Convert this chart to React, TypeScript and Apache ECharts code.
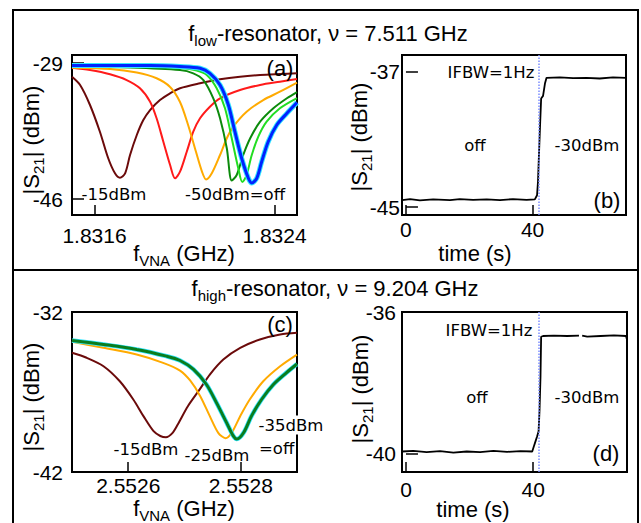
import React, { useEffect, useRef } from "react";
import * as echarts from "echarts";

// ---------- data: panel (a) f_low resonator, |S21| (dBm) vs f_VNA (GHz) ----------
const aMaroon: [number, number][] = [[1.8315,-30.71],[1.831536,-31.75],[1.83158,-34.25],[1.831624,-37.59],[1.831661,-40.91],[1.831691,-42.79],[1.831713,-43.34],[1.831736,-42.79],[1.831758,-40.5],[1.831788,-38.0],[1.831817,-36.13],[1.831847,-34.88],[1.831891,-33.63],[1.831936,-32.79],[1.83198,-32.16],[1.832069,-31.54],[1.832158,-31.04],[1.832247,-30.71],[1.832336,-30.5],[1.832424,-30.38],[1.8325,-30.29]];
const aRed: [number, number][] = [[1.8315,-29.59],[1.83158,-29.88],[1.831669,-30.41],[1.831743,-31.13],[1.831802,-32.16],[1.831847,-33.84],[1.831876,-35.91],[1.831906,-38.84],[1.831936,-41.75],[1.831958,-43.41],[1.83198,-42.59],[1.83201,-40.09],[1.832039,-37.59],[1.832069,-35.91],[1.832113,-34.46],[1.832158,-33.41],[1.832247,-32.38],[1.832336,-31.75],[1.832424,-31.34],[1.8325,-31.0]];
const aOrange: [number, number][] = [[1.8315,-29.59],[1.831669,-29.75],[1.831788,-30.19],[1.831876,-30.91],[1.831936,-32.0],[1.83198,-33.88],[1.832016,-36.75],[1.832051,-40.1],[1.832078,-42.6],[1.832096,-43.56],[1.832122,-42.75],[1.832158,-40.5],[1.832188,-38.41],[1.832217,-36.96],[1.832276,-35.09],[1.83235,-33.63],[1.832424,-32.59],[1.8325,-31.45]];
const aDarkGreen: [number, number][] = [[1.8315,-29.44],[1.831758,-29.56],[1.83198,-29.88],[1.832039,-30.29],[1.832084,-31.13],[1.832128,-33.41],[1.832158,-35.91],[1.832188,-39.66],[1.83221,-43.69],[1.832232,-43.0],[1.832261,-40.5],[1.832292,-38.41],[1.832336,-36.34],[1.832395,-34.66],[1.832455,-33.41],[1.8325,-32.63]];
const aLightGreen: [number, number][] = [[1.8315,-29.38],[1.831847,-29.44],[1.83198,-29.63],[1.832054,-29.94],[1.832099,-30.5],[1.832143,-32.16],[1.83218,-34.66],[1.83221,-38.41],[1.832239,-42.16],[1.832257,-43.88],[1.832276,-43.0],[1.832299,-40.5],[1.832328,-38.21],[1.832365,-36.34],[1.832424,-34.66],[1.8325,-33.38]];
const aBlue: [number, number][] = [[1.8315,-29.31],[1.831847,-29.31],[1.83198,-29.44],[1.832069,-29.66],[1.832113,-30.29],[1.832158,-31.75],[1.832195,-34.25],[1.832224,-37.59],[1.832254,-40.91],[1.832284,-43.41],[1.832299,-44.0],[1.832321,-43.41],[1.832343,-41.34],[1.832372,-38.84],[1.83241,-36.75],[1.832455,-35.29],[1.8325,-33.94]];
const aTicksX = [1.8316, 1.8324];
const aTicksY = [-29, -46];

// ---------- panel (b): f_low, time trace ----------
const bTime = [-1.2,1.3,4.4,8.6,13.9,17.0,21.2,25.5,29.7,33.8,38.1,40.7,41.4,41.7,42.0,42.4,42.7,43.3,43.9,44.4,48.6,52.8,57.0,61.2,65.4,69.5];
const bS21 = [-44.59,-44.53,-44.61,-44.55,-44.59,-44.53,-44.57,-44.55,-44.59,-44.53,-44.57,-44.55,-44.30,-43.51,-41.93,-39.96,-38.57,-38.42,-37.69,-37.35,-37.33,-37.37,-37.35,-37.39,-37.33,-37.35];
const bSwitchTime = 42.0;
const bTicksX = [0, 40];
const bTicksY = [-37, -45];

// ---------- panel (c): f_high resonator ----------
const cMaroon: [number, number][] = [[2.5525,-34.55],[2.552526,-34.86],[2.552556,-35.39],[2.552585,-36.33],[2.552609,-37.47],[2.552627,-38.51],[2.552645,-39.45],[2.552657,-39.75],[2.552667,-39.83],[2.552678,-39.59],[2.552688,-39.03],[2.552706,-37.89],[2.552727,-36.84],[2.552745,-35.91],[2.552769,-34.97],[2.552799,-34.24],[2.552834,-33.72],[2.55287,-33.41],[2.5529,-33.3]];
const cOrange: [number, number][] = [[2.5525,-33.86],[2.552556,-34.24],[2.552615,-34.66],[2.552662,-35.18],[2.552692,-35.66],[2.55271,-36.28],[2.552728,-37.26],[2.552745,-38.51],[2.55276,-39.55],[2.552773,-39.89],[2.552784,-39.55],[2.552799,-38.51],[2.552816,-37.47],[2.55284,-36.33],[2.55287,-35.39],[2.5529,-34.66]];
const cGreen: [number, number][] = [[2.5525,-33.78],[2.552556,-34.03],[2.552615,-34.34],[2.552668,-34.76],[2.552692,-35.03],[2.552716,-35.59],[2.552739,-36.53],[2.552757,-37.68],[2.552775,-38.93],[2.552787,-39.76],[2.552793,-39.94],[2.552805,-39.55],[2.552819,-38.51],[2.552837,-37.47],[2.552858,-36.53],[2.552881,-35.8],[2.5529,-35.25]];
const cTicksX = [2.5526, 2.5528];
const cTicksY = [-32, -42];

// ---------- panel (d): f_high, time trace ----------
const dTime = [-1.2,2.3,6.5,10.7,14.9,19.1,23.3,27.5,31.8,36.0,39.7,40.2,40.7,41.2,41.7,42.0,42.3,42.5,43.1,46.5,50.7,54.4,54.9,55.4,57.0,61.2,65.4,69.2,69.5];
const dS21: (number | string)[] = [-39.95,-39.93,-39.97,-39.94,-39.98,-39.95,-39.97,-39.93,-39.96,-39.94,-39.95,-39.81,-39.67,-39.53,-39.38,-38.77,-37.83,-36.70,-36.68,-36.67,-36.68,-36.67,"-",-36.67,-36.70,-36.68,-36.66,-36.68,-36.79];
const dSwitchTime = 41.9;
const dTicksX = [0, 40];
const dTicksY = [-36, -40];

const SANS = "'Liberation Sans', Arial, Helvetica, sans-serif";
const ANN = "'DejaVu Sans', Verdana, sans-serif";

const C = {
  maroon: "#6b0a0a",
  red: "#ff1a1a",
  orange: "#ffaa00",
  darkGreen: "#0b8a0b",
  lightGreen: "#22dd22",
  blue: "#0022ff",
  cyan: "#33e6ff",
  cGreen: "#0a7d1e",
  marker: "#7b8cff",
};

const richStyles = {
  n: { fontSize: 22, fontFamily: SANS, fill: "#000", lineHeight: 30 },
  s: { fontSize: 15, fontFamily: SANS, fill: "#000", lineHeight: 15, verticalAlign: "bottom" },
};

function richText(x: number, y: number, text: string, rotation = 0) {
  return {
    type: "text",
    x,
    y,
    rotation,
    z: 100,
    style: { text, rich: richStyles, align: "center", verticalAlign: "middle" },
  };
}

function ann(x: number, y: number, text: string, extra: any = {}) {
  return {
    type: "text",
    x,
    y,
    z: 100,
    style: {
      text,
      fontSize: 16.5,
      fontFamily: ANN,
      fill: "#000",
      align: "center",
      verticalAlign: "middle",
      ...extra,
    },
  };
}

function panelLabel(x: number, y: number, text: string) {
  return {
    type: "text",
    x,
    y,
    z: 100,
    style: { text, fontSize: 22, fontFamily: SANS, fill: "#000", align: "center", verticalAlign: "middle" },
  };
}

function xAx(gridIndex: number, min: number, max: number, ticks: number[], digits: number, margin: number) {
  return {
    type: "value",
    gridIndex,
    min,
    max,
    axisLine: { show: false },
    splitLine: { show: false },
    axisTick: { show: true, inside: true, length: 10, customValues: ticks, lineStyle: { color: "#000", width: 1.5 } },
    axisLabel: {
      show: true,
      customValues: ticks,
      formatter: (v: number) => v.toFixed(digits),
      margin,
      color: "#000",
      fontSize: 21,
      fontFamily: SANS,
    },
  };
}

function yAx(gridIndex: number, min: number, max: number, ticks: number[], margin: number) {
  return {
    type: "value",
    gridIndex,
    min,
    max,
    axisLine: { show: false },
    splitLine: { show: false },
    axisTick: { show: true, inside: true, length: 12, customValues: ticks, lineStyle: { color: "#000", width: 1.5 } },
    axisLabel: {
      show: true,
      customValues: ticks,
      formatter: (v: number) => String(Math.round(v)),
      margin,
      color: "#000",
      fontSize: 21,
      fontFamily: SANS,
    },
  };
}

function curve(idx: number, data: any[], color: string, width: number, z = 2) {
  return {
    type: "line",
    xAxisIndex: idx,
    yAxisIndex: idx,
    data,
    symbol: "none",
    showSymbol: false,
    smooth: 0.3,
    z,
    lineStyle: { color, width },
  };
}

function trace(idx: number, t: number[], v: any[], marker: number) {
  return {
    type: "line",
    xAxisIndex: idx,
    yAxisIndex: idx,
    data: t.map((x, i) => [x, v[i]]),
    symbol: "none",
    showSymbol: false,
    lineStyle: { color: "#000", width: 1.8 },
    markLine: {
      silent: true,
      symbol: ["none", "none"],
      label: { show: false },
      lineStyle: { color: C.marker, type: "dotted", width: 1.5 },
      data: [{ xAxis: marker }],
    },
  };
}

const gridBase = { show: true, borderColor: "#000", borderWidth: 2, backgroundColor: "transparent" };

export default function App() {
  const ref = useRef<HTMLDivElement>(null);

  useEffect(() => {
    if (!ref.current) return;
    const chart = echarts.init(ref.current, undefined, { renderer: "svg" });
    chart.setOption({
      animation: false,
      backgroundColor: "#fff",
      grid: [
        { ...gridBase, left: 72, top: 55, width: 225, height: 160 },
        { ...gridBase, left: 402, top: 55, width: 224, height: 160 },
        { ...gridBase, left: 72, top: 312, width: 225, height: 160 },
        { ...gridBase, left: 402, top: 312, width: 225, height: 160 },
      ],
      xAxis: [
        xAx(0, 1.8315, 1.8325, aTicksX, 4, 10),
        xAx(1, -1.25, 69.5, bTicksX, 0, 4),
        xAx(2, 2.5525, 2.5529, cTicksX, 4, 3),
        xAx(3, -1.25, 69.5, dTicksX, 0, 7),
      ],
      yAxis: [
        yAx(0, -48, -28, aTicksY, 9),
        yAx(1, -45.47, -36, bTicksY, 2),
        yAx(2, -42, -32, cTicksY, 9),
        yAx(3, -40.53, -36, dTicksY, 6),
      ],
      series: [
        curve(0, aMaroon, C.maroon, 2),
        curve(0, aRed, C.red, 2),
        curve(0, aOrange, C.orange, 2),
        curve(0, aDarkGreen, C.darkGreen, 2),
        curve(0, aLightGreen, C.lightGreen, 2),
        curve(0, aBlue, C.cyan, 5, 3),
        curve(0, aBlue, C.blue, 3, 4),
        trace(1, bTime, bS21, bSwitchTime),
        curve(2, cMaroon, C.maroon, 2),
        curve(2, cOrange, C.orange, 2),
        curve(2, cGreen, C.cyan, 4.5, 3),
        curve(2, cGreen, C.cGreen, 3, 4),
        trace(3, dTime, dS21, dSwitchTime),
      ],
      graphic: [
        { type: "rect", z: 50, shape: { x: 13, y: 10, width: 625, height: 260 }, style: { fill: "none", stroke: "#000", lineWidth: 2 } },
        { type: "rect", z: 50, shape: { x: 13, y: 270, width: 625, height: 270 }, style: { fill: "none", stroke: "#000", lineWidth: 2 } },
        richText(328, 33, "{n|f}{s|low}{n|-resonator, ν = 7.511 GHz}"),
        richText(335, 288, "{n|f}{s|high}{n|-resonator, ν = 9.204 GHz}"),
        richText(184, 253, "{n|f}{s|VNA}{n| (GHz)}"),
        richText(184, 508, "{n|f}{s|VNA}{n| (GHz)}"),
        richText(475, 253, "{n|time (s)}"),
        richText(473, 509, "{n|time (s)}"),
        richText(31, 140, "{n||S}{s|21}{n|| (dBm)}", Math.PI / 2),
        richText(359, 137, "{n||S}{s|21}{n|| (dBm)}", Math.PI / 2),
        richText(31, 397, "{n||S}{s|21}{n|| (dBm)}", Math.PI / 2),
        richText(360, 389, "{n||S}{s|21}{n|| (dBm)}", Math.PI / 2),
        panelLabel(280, 68, "(a)"),
        panelLabel(607, 200, "(b)"),
        panelLabel(280, 324, "(c)"),
        panelLabel(606, 453, "(d)"),
        ann(114, 194, "-15dBm"),
        ann(235, 194, "-50dBm=off"),
        ann(491, 72, "IFBW=1Hz"),
        ann(475, 145, "off"),
        ann(587, 145, "-30dBm"),
        ann(146, 449, "-15dBm"),
        ann(217, 455, "-25dBm"),
        ann(291, 425, "-35dBm", { backgroundColor: "#fff", padding: [1, 1] }),
        ann(258, 448, "=off", { align: "left", backgroundColor: "#fff", padding: [1, 1] }),
        ann(489, 330, "IFBW=1Hz"),
        ann(477, 397, "off"),
        ann(587, 397, "-30dBm"),
      ],
    });
    return () => chart.dispose();
  }, []);

  return (
    <div
      ref={ref}
      style={{ position: "absolute", left: 0, top: 0, width: 641, height: 523 }}
    />
  );
}
